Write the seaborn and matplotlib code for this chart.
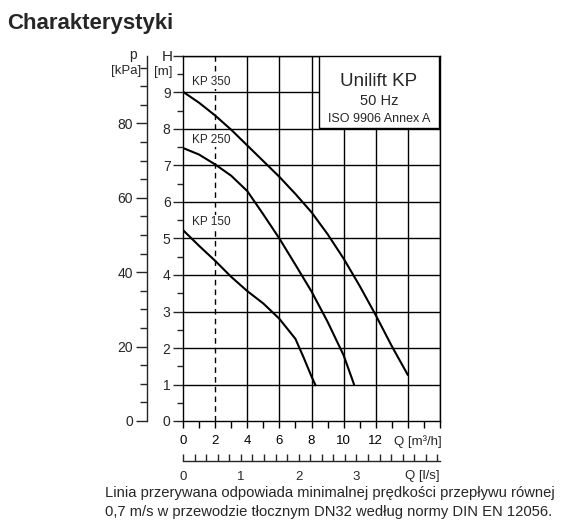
import matplotlib
matplotlib.use("Agg")
import matplotlib.pyplot as plt
import matplotlib.ticker as mticker
from matplotlib.patches import Rectangle
import numpy as np
import pandas as pd
import seaborn as sns

# ---- data ----
q_kp350 = [0, 1, 2, 3, 4, 5, 6, 7, 8, 9, 10, 11, 12, 13, 14]
h_kp350 = [9.02, 8.72, 8.37, 7.98, 7.55, 7.12, 6.69, 6.22, 5.72, 5.12, 4.45, 3.70, 2.90, 2.05, 1.26]
q_kp250 = [0, 1, 2, 3, 4, 5, 6, 7, 8, 9, 10, 10.65]
h_kp250 = [7.48, 7.30, 7.03, 6.72, 6.30, 5.66, 5.00, 4.28, 3.55, 2.72, 1.80, 1.00]
q_kp150 = [0, 1, 2, 3, 4, 5, 6, 7, 7.5, 8, 8.25]
h_kp150 = [5.23, 4.80, 4.39, 3.95, 3.56, 3.22, 2.80, 2.25, 1.75, 1.22, 0.98]
series_names = ["KP 350", "KP 250", "KP 150"]

q_ticks_m3h = [0, 2, 4, 6, 8, 10, 12]
h_tick_labels = [0, 1, 2, 3, 4, 5, 6, 7, 8, 9]
p_tick_labels = [0, 20, 40, 60, 80]
q_ticks_ls = [0, 1, 2, 3]
min_flow_q = 2  # dashed line, m3/h

title = "Charakterystyki"
box_lines = ["Unilift KP", "50 Hz", "ISO 9906 Annex A"]
footnote = ["Linia przerywana odpowiada minimalnej prędkości przepływu równej",
            "0,7 m/s w przewodzie tłocznym DN32 według normy DIN EN 12056."]

q_max, h_max = 16, 10
kpa_per_m = 9.81
m3h_per_ls = 3.6

df = pd.concat([
    pd.DataFrame({"Q": q_kp350, "H": h_kp350, "pump": series_names[0]}),
    pd.DataFrame({"Q": q_kp250, "H": h_kp250, "pump": series_names[1]}),
    pd.DataFrame({"Q": q_kp150, "H": h_kp150, "pump": series_names[2]}),
])

sns.set_style("white")
plt.rcParams["font.family"] = ["Liberation Sans", "DejaVu Sans"]
plt.rcParams["axes.linewidth"] = 1.0

W, H = 584, 527
fig = plt.figure(figsize=(W / 100, H / 100), dpi=100)
px_l, px_r, px_t, px_b = 183, 440, 56, 421
ax = fig.add_axes([px_l / W, 1 - px_b / H, (px_r - px_l) / W, (px_b - px_t) / H])

sns.lineplot(data=df, x="Q", y="H", units="pump", estimator=None, sort=False,
             color="black", lw=1.5, ax=ax, zorder=5)
for ln in ax.get_lines():
    ln.set_solid_joinstyle("round")

ax.set_xlim(0, q_max)
ax.set_ylim(0, h_max)
ax.set_xlabel("")
ax.set_ylabel("")

# grid
for q in range(4, q_max + 1, 2):
    ax.axvline(q, color="black", lw=1.0, zorder=1)
ax.axvline(min_flow_q, color="black", lw=1.0, ls=(0, (4, 3)), zorder=1)
for h in range(1, h_max + 1):
    ax.axhline(h, color="black", lw=1.0, zorder=1)

for s in ax.spines.values():
    s.set_color("black")
    s.set_linewidth(1.0)

# x (m3/h) ticks
ax.xaxis.set_major_locator(mticker.MultipleLocator(1))
ax.xaxis.set_major_formatter(mticker.FuncFormatter(
    lambda v, p: f"{int(round(v))}" if int(round(v)) in q_ticks_m3h else ""))
ax.tick_params(axis="x", direction="out", length=5, width=1, colors="black",
               labelsize=9.5, pad=5)
ax.text(14.6, -0.56, "Q [m³/h]", ha="center", va="center", fontsize=9.5)

# y (m) ticks
ax.yaxis.set_major_locator(mticker.MultipleLocator(1))
ax.yaxis.set_minor_locator(mticker.MultipleLocator(0.5))
ax.yaxis.set_major_formatter(mticker.FuncFormatter(
    lambda v, p: f"{int(round(v))}" if int(round(v)) in h_tick_labels else ""))
ax.tick_params(axis="y", which="major", direction="out", length=7, width=1,
               labelsize=10, pad=2)
ax.tick_params(axis="y", which="minor", direction="out", length=4, width=1)

# curve labels
lbl_box = dict(facecolor="white", edgecolor="none", pad=0.5)
ax.text(0.55, 9.28, series_names[0], fontsize=8.5, va="center", ha="left",
        bbox=lbl_box, zorder=3)
ax.text(0.55, 7.7, series_names[1], fontsize=8.5, va="center", ha="left",
        bbox=lbl_box, zorder=3)
ax.text(0.55, 5.45, series_names[2], fontsize=8.5, va="center", ha="left",
        bbox=lbl_box, zorder=3)

# info box
bx0, bx1 = (318 - px_l) / 16, (438 - px_l) / 16
by0 = (px_b - 128) / 36.5
ax.add_patch(Rectangle((bx0, by0), bx1 - bx0, h_max - by0, facecolor="white",
                       edgecolor="black", lw=1.0, zorder=4))
cx = (bx0 + bx1) / 2
ax.text(cx, 9.3, box_lines[0], ha="center", va="center", fontsize=13.5, zorder=6)
ax.text(cx, 8.76, box_lines[1], ha="center", va="center", fontsize=10.5, zorder=6)
ax.text(cx, 8.27, box_lines[2], ha="center", va="center", fontsize=9, zorder=6)

# p (kPa) axis
ax2 = ax.twinx()
ax2.set_ylim(0, h_max * kpa_per_m)
for k, s in ax2.spines.items():
    s.set_visible(k == "left")
ax2.spines["left"].set_position(("axes", -(183 - 147) / (px_r - px_l)))
ax2.yaxis.tick_left()
ax2.yaxis.set_major_locator(mticker.FixedLocator(p_tick_labels))
ax2.yaxis.set_minor_locator(mticker.FixedLocator(list(range(5, 100, 5))))
ax2.tick_params(axis="y", which="major", direction="out", length=8, width=1,
                labelsize=10, pad=2)
ax2.tick_params(axis="y", which="minor", direction="out", length=5, width=1)

# l/s axis
ax3 = ax.twiny()
ax3.set_xlim(0, q_max / m3h_per_ls)
for k, s in ax3.spines.items():
    s.set_visible(k == "bottom")
ax3.spines["bottom"].set_position(("outward", 40 * 0.72))
ax3.xaxis.tick_bottom()
ax3.xaxis.set_major_locator(mticker.FixedLocator(q_ticks_ls))
ax3.xaxis.set_minor_locator(mticker.MultipleLocator(0.2))
ax3.tick_params(axis="x", which="both", direction="in", length=5, width=1,
                labelsize=9.5, pad=7)
ax3.text(4.13, -0.15, "Q [l/s]", transform=ax3.get_xaxis_transform(),
         ha="center", va="center", fontsize=9.5)

# axis titles
fig.text(167 / W, 1 - 57 / H, "H", ha="center", va="center", fontsize=11)
fig.text(163 / W, 1 - 72 / H, "[m]", ha="center", va="center", fontsize=9.5)
fig.text(133 / W, 1 - 55 / H, "p", ha="center", va="center", fontsize=10)
fig.text(126 / W, 1 - 71 / H, "[kPa]", ha="center", va="center", fontsize=9.5)

fig.text(7 / W, 1 - 24 / H, title, ha="left", va="center", fontsize=16,
         fontweight="bold")
fig.text(105 / W, 1 - 493 / H, footnote[0], ha="left", va="center", fontsize=10.6)
fig.text(105 / W, 1 - 512 / H, footnote[1], ha="left", va="center", fontsize=10.6)

fig.savefig("out.png", dpi=100)
